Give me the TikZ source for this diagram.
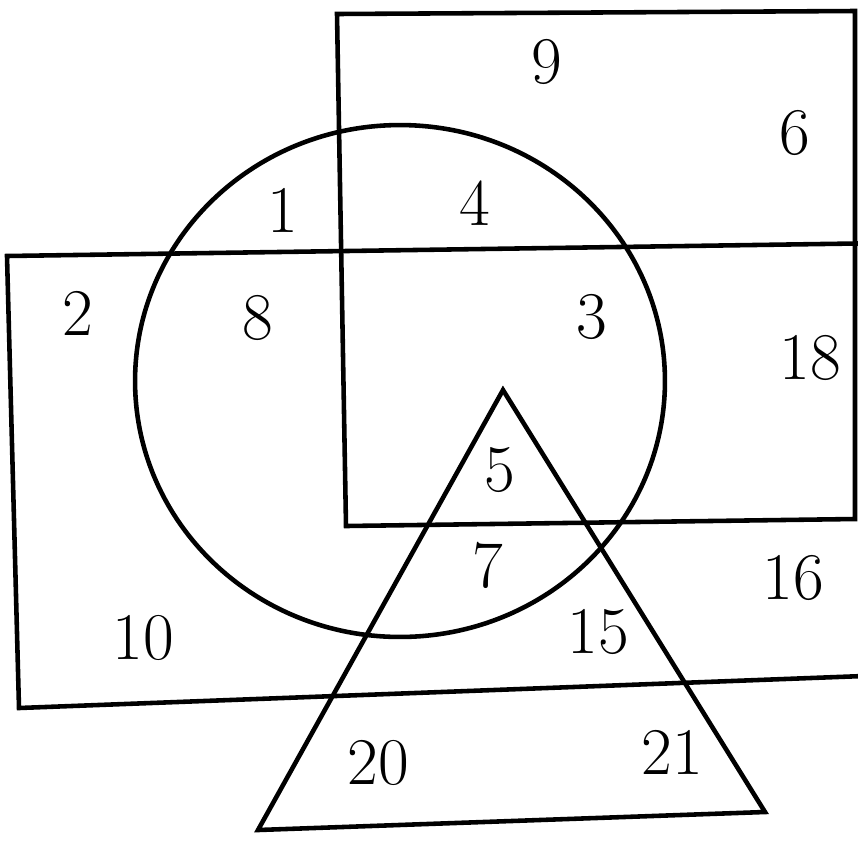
\documentclass[tikz,border=0pt]{standalone}
\usetikzlibrary{positioning}

\begin{document}
\begin{tikzpicture}[x=0.02cm, y=-0.02cm, line width=2.6pt,
    lbl/.style={font=\fontsize{38}{40}\selectfont, inner sep=0pt}]
        \useasboundingbox (0,0) rectangle (858,846);
        \clip (0,0) rectangle (858,846);

        % Upper box
        \draw (337,14) -- (855,11) -- (855,519) -- (346,526) -- cycle;

        % Wide box
        \draw (7,256) -- (890,243) -- (890,675) -- (19,708) -- cycle;

        % Circle
        \draw (400,381) ellipse (5.3cm and 5.12cm);

        % Triangle
        \draw (503,390) -- (765,812) -- (258,830) -- cycle;

        % Numbers
        \node[lbl] (n9)  at (547,62)  {9};
        \node[lbl] (n6)  at (795,133) {6};
        \node[lbl] (n1)  at (283,210) {1};
        \node[lbl] (n4)  at (475,203) {4};
        \node[lbl] (n2)  at (78,313)  {2};
        \node[lbl] (n8)  at (258,318) {8};
        \node[lbl] (n3)  at (592,317) {3};
        \node[lbl] (n18) at (810,358) {18};
        \node[lbl] (n5)  at (500,470) {5};
        \node[lbl] (n7)  at (488,565) {7};
        \node[lbl] (n16) at (793,578) {16};
        \node[lbl] (n10) at (143,638) {10};
        \node[lbl] (n15) at (598,632) {15};
        \node[lbl] (n20) at (378,763) {20};
        \node[lbl] (n21) at (672,752) {21};
    \end{tikzpicture}
\end{document}
